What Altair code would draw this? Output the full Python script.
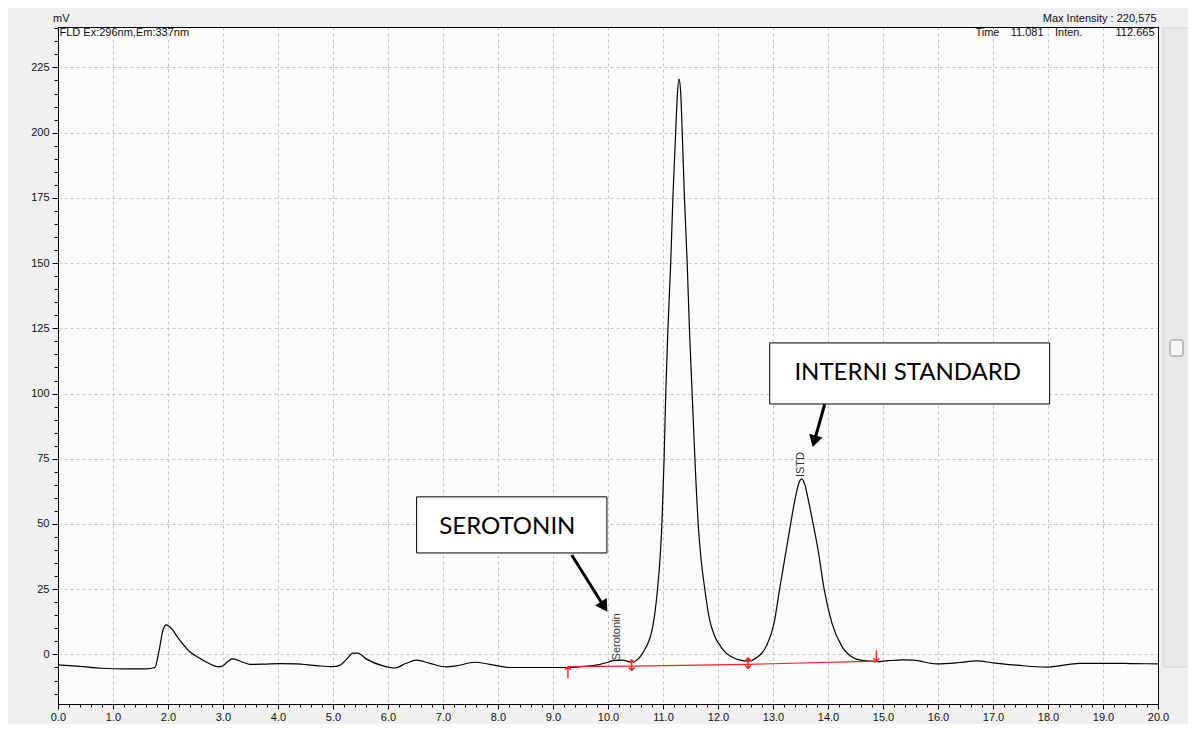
import altair as alt
import pandas as pd

# ---- chromatogram trace (time in min, signal in mV) ----
TIME = [0.00, 0.40, 0.80, 1.20, 1.60, 1.76, 1.84, 1.91, 1.97, 2.04, 2.21, 2.39, 2.58, 2.75,
        2.90, 2.98, 3.08, 3.18, 3.36, 3.49, 3.75, 4.03, 4.33, 4.70, 5.00, 5.12, 5.25, 5.36,
        5.45, 5.61, 5.91, 6.12, 6.33, 6.52, 6.76, 7.06, 7.24, 7.58, 7.85, 8.21, 8.70, 9.24,
        9.55, 9.82, 10.00, 10.09, 10.27, 10.42, 10.50, 10.58, 10.66, 10.72, 10.78, 10.84,
        10.90, 10.95, 10.98, 11.02, 11.05, 11.09, 11.14, 11.18, 11.23, 11.26, 11.29, 11.32,
        11.35, 11.39, 11.44, 11.48, 11.53, 11.58, 11.64, 11.70, 11.76, 11.84, 11.94, 12.05,
        12.15, 12.27, 12.40, 12.55, 12.70, 12.88, 13.02, 13.12, 13.24, 13.32, 13.40, 13.46,
        13.52, 13.58, 13.64, 13.73, 13.82, 13.93, 14.07, 14.25, 14.46, 14.62, 14.77, 14.88,
        15.10, 15.36, 15.55, 15.97, 16.39, 16.70, 17.00, 17.43, 17.97, 18.09, 18.58, 19.24,
        19.50, 20.00]
SIGNAL = [-4.0, -4.6, -5.3, -5.5, -5.5, -5.0, 1.7, 9.4, 11.3, 10.4, 5.6, 1.1, -1.5, -3.5,
          -4.7, -4.6, -2.8, -1.7, -3.0, -3.8, -3.7, -3.5, -3.6, -4.3, -4.7, -4.2, -1.8, 0.5,
          0.5, -1.8, -4.4, -5.2, -3.4, -2.2, -3.4, -4.8, -4.4, -3.0, -3.8, -5.0, -5.0, -5.0,
          -4.6, -4.0, -3.0, -2.4, -2.2, -2.9, -2.5, -1.0, 1.5, 4.0, 7.5, 14.0,
          25.0, 38.0, 50.0, 75.0, 100.0, 125.0, 150.0, 175.0, 200.0, 214.0, 220.5, 216.0,
          200.0, 175.0, 150.0, 125.0, 100.0, 75.0, 50.0, 35.0, 25.0, 14.0, 7.0, 3.0,
          0.5, -1.2, -2.2, -2.6, -1.3, 3.2, 12.1, 25.0, 40.0, 50.0, 59.4, 65.0,
          67.3, 65.0, 59.4, 50.0, 40.0, 25.0, 12.1, 3.2, -1.3, -2.3, -2.6, -2.8,
          -2.4, -2.1, -2.2, -3.6, -3.1, -2.5, -3.2, -4.1, -4.9, -4.7, -3.4, -3.4,
          -3.5, -3.6]

# ---- integration baseline (red) ----
BASE_T = [9.27, 10.43, 12.55, 14.88]
BASE_V = [-4.7, -4.5, -3.8, -2.6]
MARK_T = [9.27, 10.43, 12.55, 14.88]
MARK_V = [-7.0, -4.6, -3.7, -0.9]
MARK_S = ["↑", "↕", "↕", "↓"]

# ---- peak labels ----
PEAK_NAMES = ["Serotonin", "ISTD"]
PEAK_T = [10.16, 13.50]
PEAK_V = [-2.3, 68.0]

# ---- callout boxes ----
BOX_TEXT = ["SEROTONIN", "INTERNI STANDARD"]
BOX_X1 = [6.52, 12.94]
BOX_X2 = [9.98, 18.03]
BOX_Y1 = [38.9, 96.0]
BOX_Y2 = [60.4, 119.4]
BOX_TX = [8.17, 15.45]
BOX_TY = [48.9, 107.9]

# ---- callout arrows ----
ARR_X1 = [9.34, 13.94]
ARR_Y1 = [38.1, 95.9]
ARR_X2 = [9.93, 13.75]
ARR_Y2 = [18.3, 81.7]
ARR_ANG = [147.3, 195.6]

# ---- axis ticks ----
X_TICKS = [round(i * 0.2, 1) for i in range(101)]
Y_TICKS = list(range(-15, 241, 5))

trace = pd.DataFrame({"t": TIME, "v": SIGNAL})
base = pd.DataFrame({"t": BASE_T, "v": BASE_V})
marks = pd.DataFrame({"t": MARK_T, "v": MARK_V, "s": MARK_S})
peaks = pd.DataFrame({"t": PEAK_T, "v": PEAK_V, "name": PEAK_NAMES})
boxes = pd.DataFrame({"x1": BOX_X1, "x2": BOX_X2, "y1": BOX_Y1, "y2": BOX_Y2,
                      "tx": BOX_TX, "ty": BOX_TY, "label": BOX_TEXT})
arrows = pd.DataFrame({"x1": ARR_X1, "y1": ARR_Y1, "x2": ARR_X2, "y2": ARR_Y2, "ang": ARR_ANG})

FONT = "Liberation Sans"

xscale = alt.Scale(domain=[0, 20], nice=False, zero=False)
yscale = alt.Scale(domain=[-19, 240.5], nice=False, zero=False)

MAJ_X = "abs(datum.value - round(datum.value)) < 0.01 && datum.value < 19.99"
xaxis = alt.Axis(
    values=X_TICKS, title=None,
    labelExpr="abs(datum.value - round(datum.value)) < 0.01 ? format(datum.value, '.1f') : ''",
    tickSize={"condition": {"test": "abs(datum.value - round(datum.value)) < 0.01", "value": 5}, "value": 3},
    grid=True,
    gridOpacity={"condition": {"test": MAJ_X, "value": 1}, "value": 0},
    gridDash=[3, 3], gridColor="#c4c4c4", gridWidth=1,
    domainColor="black", tickColor="black", labelColor="#111111",
    labelFont=FONT, labelFontSize=11, labelOverlap=False, labelFlush=False, labelPadding=2,
)
yaxis = alt.Axis(
    values=Y_TICKS, title=None,
    labelExpr="(datum.value % 25 === 0 && datum.value >= 0) ? format(datum.value, 'd') : ''",
    tickSize={"condition": {"test": "datum.value % 25 === 0", "value": 6}, "value": 4},
    grid=True,
    gridOpacity={"condition": {"test": "datum.value % 25 === 0", "value": 1}, "value": 0},
    gridDash=[3, 3], gridColor="#c4c4c4", gridWidth=1,
    domainColor="black", tickColor="black", labelColor="#111111",
    labelFont=FONT, labelFontSize=11, labelOverlap=False, labelFlush=False, labelPadding=3,
)


def X(f):
    return alt.X(f, type="quantitative", scale=xscale, axis=xaxis)


def Y(f):
    return alt.Y(f, type="quantitative", scale=yscale, axis=yaxis)


line = alt.Chart(trace).mark_line(color="black", strokeWidth=1.2, interpolate="monotone").encode(
    x=X("t"), y=Y("v"))

base_line = alt.Chart(base).mark_line(color="#ff2020", strokeWidth=1.2).encode(x=X("t"), y=Y("v"))

base_marks = alt.Chart(marks).mark_text(color="#ff2020", fontSize=16, font="DejaVu Sans",
                                        baseline="middle").encode(x=X("t"), y=Y("v"), text="s:N")

peak_lbl = alt.Chart(peaks).mark_text(angle=270, align="left", baseline="middle", fontSize=11,
                                      font=FONT, color="#333333").encode(
    x=X("t"), y=Y("v"), text="name:N")

box_rect = alt.Chart(boxes).mark_rect(fill="white", stroke="black", strokeWidth=1).encode(
    x=X("x1"), x2="x2", y=Y("y1"), y2="y2")

box_txt = alt.Chart(boxes).mark_text(font="Lato", fontSize=24, color="black",
                                     align="center", baseline="middle").encode(
    x=X("tx"), y=Y("ty"), text="label:N")

arr_line = alt.Chart(arrows).mark_rule(color="black", strokeWidth=3).encode(
    x=X("x1"), y=Y("y1"), x2="x2", y2="y2")

arr_head = alt.Chart(arrows).mark_point(shape="triangle-up", filled=True, color="black",
                                        opacity=1, size=190).encode(
    x=X("x2"), y=Y("y2"), angle=alt.Angle("ang:Q", scale=None))

# ---- header texts (instrument annotations around the frame) ----
HDR_TEXT = ["mV", "FLD Ex:296nm,Em:337nm", "Max Intensity : 220,575", "Time", "11.081",
            "Inten.", "112.665"]
HDR_X = [-5, 1.5, 1098.5, 941.5, 985.5, 997, 1096.5]
HDR_Y = [-8, 5.5, -8, 5.5, 5.5, 5.5, 5.5]
HDR_AL = ["left", "left", "right", "right", "right", "left", "right"]

hdr_layers = []
for txt, hx, hy, al in zip(HDR_TEXT, HDR_X, HDR_Y, HDR_AL):
    hdr_layers.append(
        alt.Chart(pd.DataFrame({"s": [txt]})).mark_text(
            font=FONT, fontSize=11, color="#111111", align=al, baseline="middle").encode(
            x=alt.value(hx), y=alt.value(hy), text="s:N"))

one = pd.DataFrame({"a": [0]})
# ---- solid frame on top and right ----
top_rule = alt.Chart(one).mark_rule(color="black", strokeWidth=1).encode(
    x=alt.value(0), x2=alt.value(1100.5), y=alt.value(0.5))
right_rule = alt.Chart(one).mark_rule(color="black", strokeWidth=1).encode(
    x=alt.value(1100.5), y=alt.value(0), y2=alt.value(677))

# ---- scrollbar decoration at the right edge ----
track = alt.Chart(one).mark_rect(fill="#e9e9e9", stroke="#d4d4d4").encode(
    x=alt.value(1105), x2=alt.value(1131), y=alt.value(1), y2=alt.value(640))
thumb = alt.Chart(one).mark_rect(fill="#f6f6f6", stroke="#8a8a8a", cornerRadius=2).encode(
    x=alt.value(1112), x2=alt.value(1125), y=alt.value(313), y2=alt.value(329))

chart = alt.layer(
    line, base_line, base_marks, peak_lbl, box_rect, box_txt, arr_line, arr_head,
    top_rule, right_rule, track, thumb, *hdr_layers
).properties(
    width=1100, height=677,
    autosize=alt.AutoSizeParams(type="none"),
    padding={"left": 50, "top": 19, "right": 30, "bottom": 20},
    background="#f0f0f0",
).configure_view(stroke="black", strokeWidth=1, fill="#fbfbfb")

chart.save("out.html", embed_options={"renderer": "svg", "actions": False})
